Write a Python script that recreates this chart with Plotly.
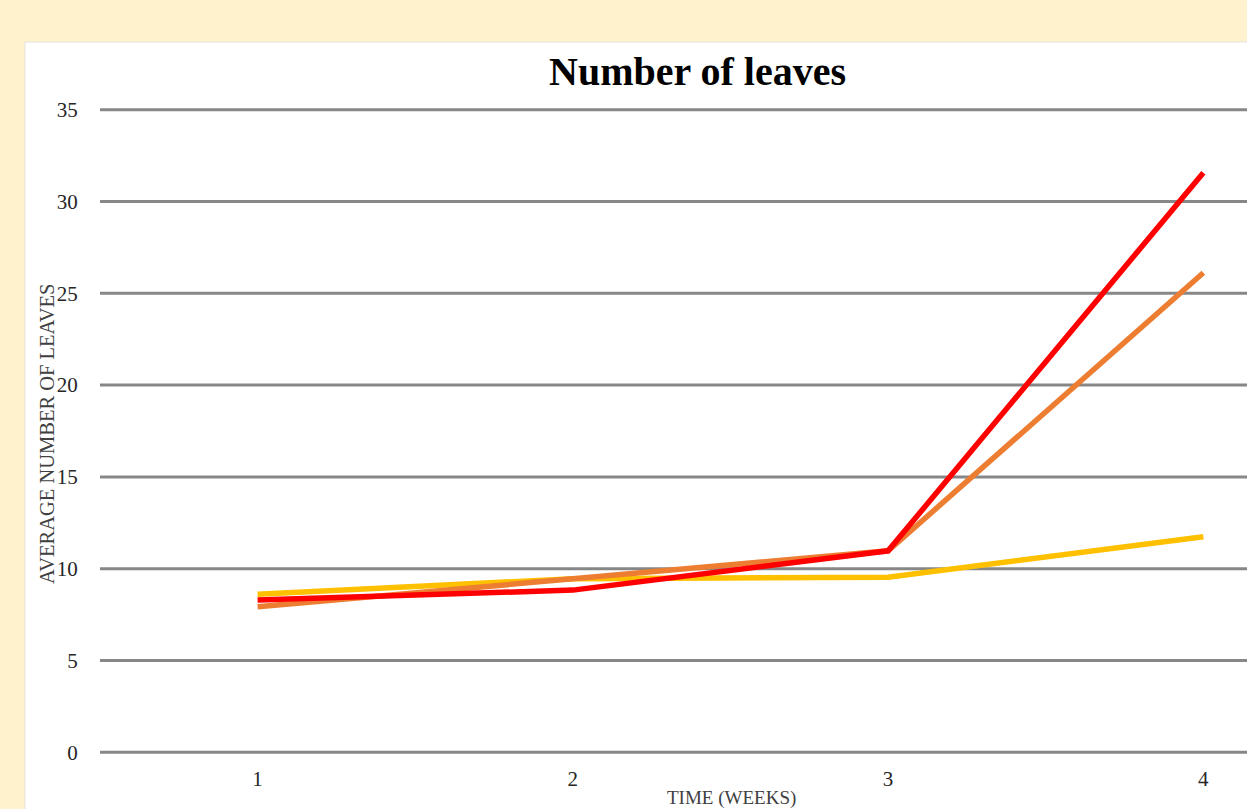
import plotly.graph_objects as go

# Weekly averages of leaf counts for three groups
weeks = [1, 2, 3, 4]
week_labels = ["1", "2", "3", "4"]
group_yellow = [8.6, 9.45, 9.53, 11.74]
group_orange = [7.92, 9.43, 10.97, 26.12]
group_red = [8.29, 8.83, 10.97, 31.57]

y_ticks = [0, 5, 10, 15, 20, 25, 30, 35]

W, H = 1247, 809
ML, MR, MT, MB = 100, 0, 108, 55
PW, PH = W - ML - MR, H - MT - MB
Y_PAD = 0.1  # small headroom so the end gridlines are not clipped


def px_to_paper_x(px):
    return (px - ML) / PW


def px_to_paper_y(py):
    return (H - MB - py) / PH


serif = "Liberation Serif, Times New Roman, serif"

fig = go.Figure()

# white chart card on the cream page
fig.add_shape(
    type="rect", xref="paper", yref="paper", layer="below",
    x0=px_to_paper_x(25), x1=px_to_paper_x(W + 20),
    y0=px_to_paper_y(H + 20), y1=px_to_paper_y(42),
    fillcolor="white", line=dict(color="#E2E2E2", width=1),
)

# horizontal gridlines at every tick, including both range ends
for v in y_ticks:
    fig.add_shape(
        type="line", xref="paper", yref="y", layer="below",
        x0=0, x1=1, y0=v, y1=v,
        line=dict(color="#878787", width=3),
    )

for vals, color, name in [
    (group_yellow, "#FFC000", "Group C"),
    (group_orange, "#ED7D31", "Group B"),
    (group_red, "#FF0000", "Group A"),
]:
    fig.add_trace(go.Scatter(
        x=weeks, y=vals, mode="lines", name=name,
        line=dict(color=color, width=5.5),
        showlegend=False,
    ))

fig.add_annotation(
    text="<b>Number of leaves</b>", xref="paper", yref="paper",
    x=px_to_paper_x(697), y=px_to_paper_y(71), xanchor="center", yanchor="middle",
    showarrow=False, font=dict(family=serif, size=40, color="#000000"),
)
fig.add_annotation(
    text="TIME (WEEKS)", xref="paper", yref="paper",
    x=px_to_paper_x(731), y=px_to_paper_y(798), xanchor="center", yanchor="middle",
    showarrow=False, font=dict(family=serif, size=19, color="#404040"),
)
fig.add_annotation(
    text="AVERAGE NUMBER OF LEAVES", xref="paper", yref="paper",
    x=px_to_paper_x(47), y=px_to_paper_y(434), xanchor="center", yanchor="middle",
    textangle=-90, showarrow=False, font=dict(family=serif, size=20.5, color="#404040"),
)

fig.update_layout(
    width=W, height=H,
    margin=dict(l=ML, r=MR, t=MT, b=MB),
    paper_bgcolor="#FFF2CC",
    plot_bgcolor="rgba(0,0,0,0)",
    xaxis=dict(
        range=[0.5, 4.5 - (1361 - 1247) / 315.3],
        tickvals=weeks, ticktext=week_labels,
        showgrid=False, zeroline=False, showline=False,
        ticks="outside", ticklen=6, tickcolor="rgba(0,0,0,0)",
        tickfont=dict(family=serif, size=21, color="#262626"),
    ),
    yaxis=dict(
        range=[y_ticks[0] - Y_PAD, y_ticks[-1] + Y_PAD], tickvals=y_ticks,
        showgrid=False, zeroline=False, showline=False,
        ticks="outside", ticklen=17, tickcolor="rgba(0,0,0,0)",
        tickfont=dict(family=serif, size=21, color="#262626"),
    ),
)

fig.write_html("out.html")
